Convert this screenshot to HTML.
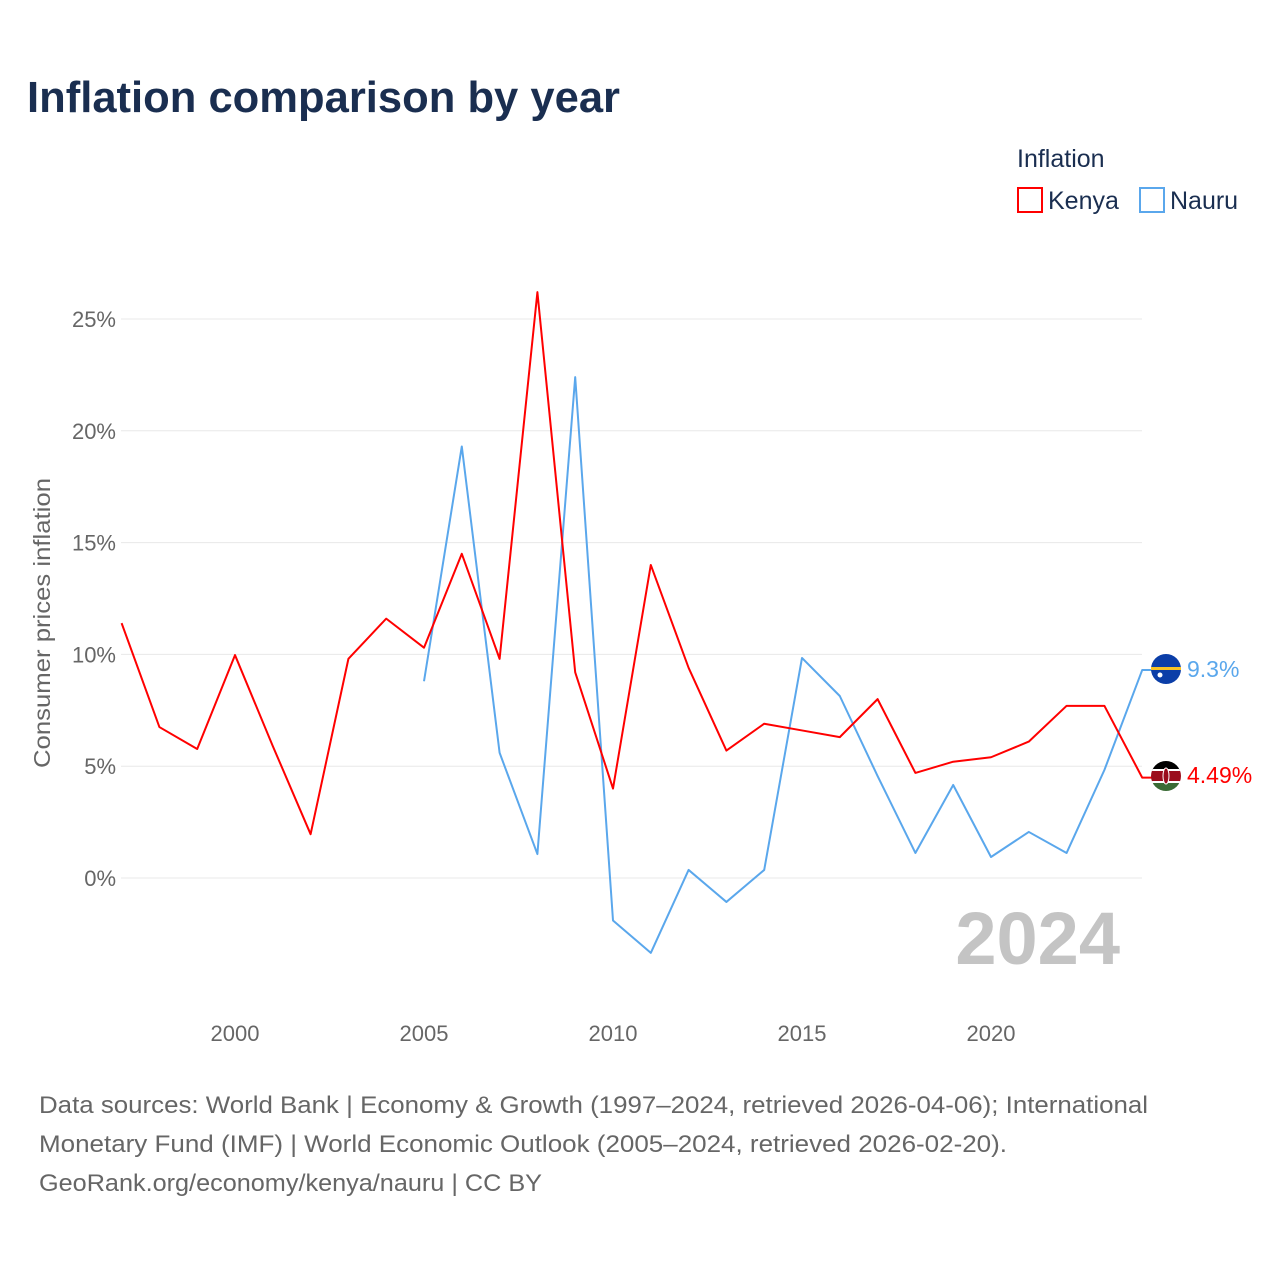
<!DOCTYPE html>
<html><head><meta charset="utf-8"><style>
body{margin:0;background:#fff;font-family:"Liberation Sans",sans-serif;}
#wrap{position:relative;width:1280px;height:1280px;overflow:hidden;}
</style></head><body>
<div id="wrap">
<svg id="chart" width="1280" height="1280" xmlns="http://www.w3.org/2000/svg">
<text x="27" y="112" font-size="44" font-weight="bold" fill="#1a2e50" textLength="593" lengthAdjust="spacingAndGlyphs">Inflation comparison by year</text>
<text x="1017" y="167" font-size="25" fill="#1a2e50">Inflation</text>
<g><rect x="1018" y="188" width="24" height="24" fill="none" stroke="#ff0000" stroke-width="2"/><text x="1048" y="209" font-size="25" fill="#1a2e50">Kenya</text></g>
<g><rect x="1140" y="188" width="24" height="24" fill="none" stroke="#5aa7ec" stroke-width="2"/><text x="1170" y="209" font-size="25" fill="#1a2e50">Nauru</text></g>
<text transform="translate(50,623) rotate(-90)" text-anchor="middle" font-size="23" fill="#666" textLength="290" lengthAdjust="spacingAndGlyphs">Consumer prices inflation</text>
<text x="1120" y="964" text-anchor="end" font-size="74" font-weight="bold" fill="#c4c4c4">2024</text>
<g id="grid"></g><g id="yt"></g><g id="xt"></g><g id="lines"></g>
<g><circle cx="1166" cy="669" r="15" fill="#0b3ea8"/><rect x="1151" y="667" width="30" height="3" fill="#f7c325"/><circle cx="1160" cy="675" r="2.5" fill="#fff"/></g>
<text x="1187" y="677" font-size="23" fill="#5aa7ec">9.3%</text>
<g><clipPath id="kc"><circle cx="1166" cy="776" r="15"/></clipPath><g clip-path="url(#kc)"><rect x="1150" y="760" width="32" height="10" fill="#000"/><rect x="1150" y="770" width="32" height="12" fill="#9b0d1c"/><rect x="1150" y="769" width="32" height="2" fill="#fff"/><rect x="1150" y="781" width="32" height="2" fill="#fff"/><rect x="1150" y="783" width="32" height="10" fill="#3a6b35"/><ellipse cx="1166" cy="776" rx="3" ry="8" fill="#9b0d1c" stroke="#fff" stroke-width="1"/></g></g>
<text x="1187" y="783" font-size="23" fill="#ff0000">4.49%</text>
<text font-size="24" fill="#666"><tspan x="39" y="1113" textLength="1109" lengthAdjust="spacingAndGlyphs">Data sources: World Bank | Economy &amp; Growth (1997–2024, retrieved 2026-04-06); International</tspan><tspan x="39" y="1152" textLength="968" lengthAdjust="spacingAndGlyphs">Monetary Fund (IMF) | World Economic Outlook (2005–2024, retrieved 2026-02-20).</tspan><tspan x="39" y="1191" textLength="503" lengthAdjust="spacingAndGlyphs">GeoRank.org/economy/kenya/nauru | CC BY</tspan></text>
</svg></div>
<script>
const years=[1997,1998,1999,2000,2001,2002,2003,2004,2005,2006,2007,2008,2009,2010,2011,2012,2013,2014,2015,2016,2017,2018,2019,2020,2021,2022,2023,2024];
const kenya=[11.4,6.75,5.77,9.97,5.9,1.96,9.8,11.6,10.3,14.5,9.8,26.2,9.2,4.0,14.0,9.4,5.7,6.9,6.6,6.3,8.0,4.7,5.2,5.4,6.1,7.7,7.7,4.49];
const nauruYears=[2005,2006,2007,2008,2009,2010,2011,2012,2013,2014,2015,2016,2017,2018,2019,2020,2021,2022,2023,2024];
const nauru=[8.8,19.3,5.6,1.07,22.4,-1.9,-3.35,0.36,-1.07,0.36,9.84,8.14,4.56,1.12,4.16,0.94,2.06,1.12,4.83,9.3];
const yTicks=[0,5,10,15,20,25];
const xTicks=[2000,2005,2010,2015,2020];
const NS="http://www.w3.org/2000/svg";
function xs(y){return 121.6+(y-1997)*37.8;}
function ys(v){return 878-v*22.36;}
function mk(t,a,p){const e=document.createElementNS(NS,t);for(const k in a)e.setAttribute(k,a[k]);document.getElementById(p).appendChild(e);return e;}
yTicks.forEach(v=>{
 const l=mk('line',{x1:121,x2:1142,y1:ys(v),y2:ys(v),stroke:'#e8e8e8','stroke-width':1},'grid');
 
 
 const t=mk('text',{x:116,y:ys(v)+8,'text-anchor':'end','font-size':22,fill:'#666'},'yt');
 t.textContent=v+'%';
 
 
});
xTicks.forEach(v=>{
 const t=mk('text',{x:xs(v),y:1041,'text-anchor':'middle','font-size':22,fill:'#666'},'xt');
 t.textContent=v;
 
 
});
function series(yr,vals,col,name){
 let pts=yr.map((y,i)=>xs(y)+','+ys(vals[i]));
 pts.push((xs(yr[yr.length-1])+10)+','+ys(vals[vals.length-1]));
 const p=mk('polyline',{points:pts.join(' '),fill:'none',stroke:col,'stroke-width':2,'stroke-linejoin':'round'},'lines');
 
 
}
series(nauruYears,nauru,'#5aa7ec','nauru-line');
series(years,kenya,'#ff0000','kenya-line');
</script>
</body></html>
